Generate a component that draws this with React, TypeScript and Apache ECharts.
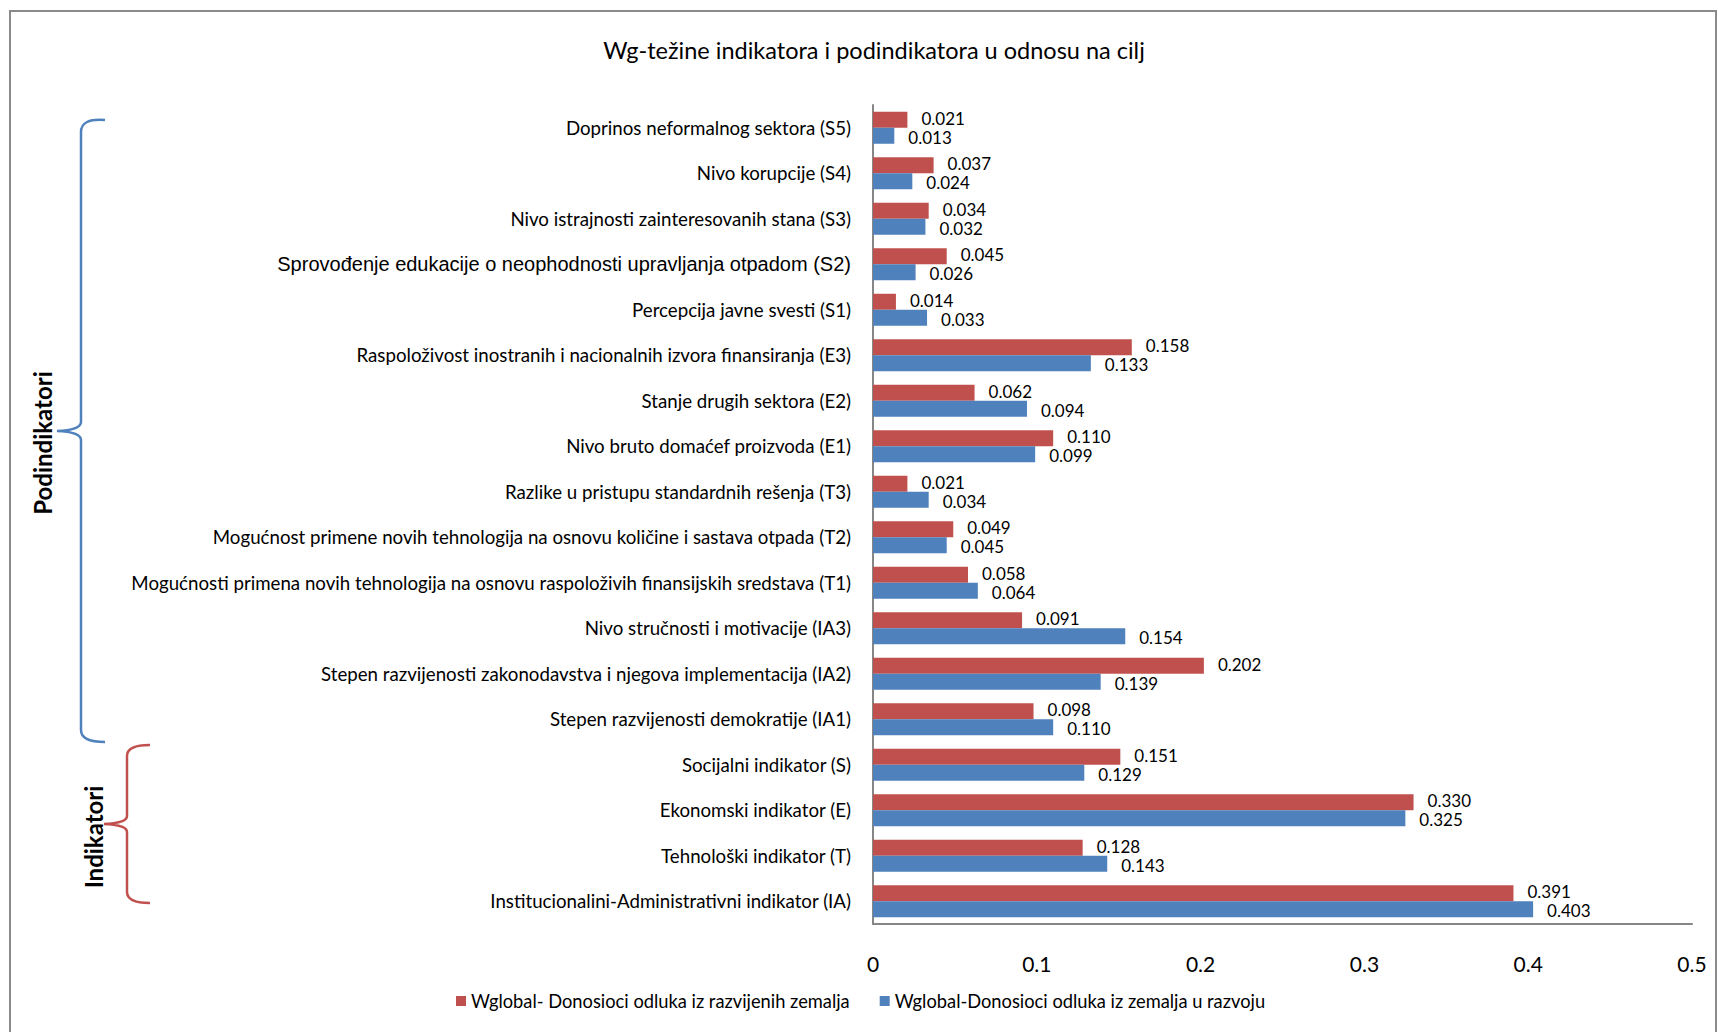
import React, { useEffect, useRef } from "react";
import * as echarts from "echarts";

const categories = [
  "Institucionalini-Administrativni indikator (IA)",
  "Tehnološki indikator (T)",
  "Ekonomski indikator (E)",
  "Socijalni indikator (S)",
  "Stepen razvijenosti demokratije (IA1)",
  "Stepen razvijenosti zakonodavstva i njegova implementacija (IA2)",
  "Nivo stručnosti i motivacije (IA3)",
  "Mogućnosti primena novih tehnologija na osnovu raspoloživih finansijskih sredstava (T1)",
  "Mogućnost primene novih tehnologija na osnovu količine i sastava otpada (T2)",
  "Razlike u pristupu standardnih rešenja (T3)",
  "Nivo bruto domaćef proizvoda (E1)",
  "Stanje drugih sektora (E2)",
  "Raspoloživost inostranih i nacionalnih izvora finansiranja (E3)",
  "Percepcija javne svesti (S1)",
  "Sprovođenje edukacije o neophodnosti upravljanja otpadom (S2)",
  "Nivo istrajnosti zainteresovanih stana (S3)",
  "Nivo korupcije (S4)",
  "Doprinos neformalnog sektora (S5)",
];

const developed = [
  0.391, 0.128, 0.33, 0.151, 0.098, 0.202, 0.091, 0.058, 0.049, 0.021, 0.11,
  0.062, 0.158, 0.014, 0.045, 0.034, 0.037, 0.021,
];

const developing = [
  0.403, 0.143, 0.325, 0.129, 0.11, 0.139, 0.154, 0.064, 0.045, 0.034, 0.099,
  0.094, 0.133, 0.033, 0.026, 0.032, 0.024, 0.013,
];

const seriesNames = [
  "Wglobal- Donosioci odluka iz razvijenih zemalja",
  "Wglobal-Donosioci odluka iz zemalja u razvoju",
];

const titleText = "Wg-težine indikatora i podindikatora u odnosu na cilj";
const groupLabels = ["Podindikatori", "Indikatori"];
const specialLabel = "Sprovođenje edukacije o neophodnosti upravljanja otpadom (S2)";

const RED = "#C0504D";
const BLUE = "#4F81BD";
const FONT = "Lato, 'Open Sans', sans-serif";

let registered = false;
function registerBraces() {
  if (registered) return;
  registered = true;
  echarts.graphic.registerShape(
    "braceBlue",
    echarts.graphic.extendPath(
      "M 105 120 Q 81 118 81 132 L 81 422 Q 81 430 57 431 Q 81 432 81 440 L 81 730 Q 81 742 105 742",
      {}
    )
  );
  echarts.graphic.registerShape(
    "braceRed",
    echarts.graphic.extendPath(
      "M 150 745 Q 127 745 127 756 L 127 816 Q 127 823 104 824 Q 127 825 127 832 L 127 892 Q 127 903 150 903",
      {}
    )
  );
}

export default function App() {
  const ref = useRef<HTMLDivElement>(null);
  useEffect(() => {
    document.body.style.margin = "0";
    registerBraces();
    const chart = echarts.init(ref.current!, null, { renderer: "svg" });
    const labelCommon = {
      show: true,
      position: "right" as const,
      distance: 14,
      color: "#000",
      fontFamily: FONT,
      fontSize: 17,
      lineHeight: 15,
      formatter: (p: any) => Number(p.value).toFixed(3),
    };
    chart.setOption({
      animation: false,
      backgroundColor: "#fff",
      title: {
        text: titleText,
        left: 869,
        top: 33,
        textAlign: "center",
        textStyle: {
          fontFamily: FONT,
          fontSize: 23.5,
          fontWeight: "normal",
          color: "#000",
        },
      },
      legend: {
        left: 451,
        top: 987,
        itemWidth: 10,
        itemHeight: 10,
        itemGap: 30,
        icon: "rect",
        textStyle: { fontFamily: FONT, fontSize: 18.3, color: "#000" },
        data: seriesNames,
      },
      grid: { left: 873, right: 26, top: 105, bottom: 108, containLabel: false },
      xAxis: {
        type: "value",
        min: 0,
        max: 0.5,
        interval: 0.1,
        axisLine: { show: true, lineStyle: { color: "#868686", width: 2 } },
        axisTick: { show: false },
        splitLine: { show: false },
        axisLabel: {
          margin: 29,
          fontFamily: FONT,
          fontSize: 21,
          color: "#000",
        },
      },
      yAxis: {
        type: "category",
        data: categories,
        axisLine: { show: true, lineStyle: { color: "#868686", width: 2 } },
        axisTick: { show: false },
        axisLabel: {
          margin: 22,
          fontFamily: FONT,
          fontSize: 18.7,
          color: "#000",
          formatter: (v: string) => (v === specialLabel ? "{a|" + v + "}" : v),
          rich: {
            a: {
              fontFamily: "'Liberation Sans', Arial, sans-serif",
              fontSize: 20,
              color: "#000",
            },
          },
        },
      },
      series: [
        {
          name: seriesNames[0],
          type: "bar",
          data: developed,
          barWidth: 16,
          barGap: "0%",
          itemStyle: { color: RED },
          label: { ...labelCommon, offset: [0, -1.5] },
        },
        {
          name: seriesNames[1],
          type: "bar",
          data: developing,
          barWidth: 16,
          barGap: "0%",
          itemStyle: { color: BLUE },
          label: { ...labelCommon, offset: [0, 1.5] },
        },
      ],
      graphic: [
        {
          type: "rect",
          shape: { x: 10, y: 11, width: 1706, height: 1040 },
          style: { fill: "none", stroke: "#8A8A8A", lineWidth: 2 },
          silent: true,
        },
        {
          type: "braceBlue",
          x: 0,
          y: 0,
          style: { fill: "none", stroke: BLUE, lineWidth: 2.5 },
        },
        {
          type: "braceRed",
          x: 0,
          y: 0,
          style: { fill: "none", stroke: RED, lineWidth: 2.5 },
        },
        {
          type: "text",
          x: 42,
          y: 443,
          rotation: Math.PI / 2,
          style: {
            text: groupLabels[0],
            fontFamily: FONT,
            fontSize: 24,
            fontWeight: "bold",
            fill: "#000",
            align: "center",
            verticalAlign: "middle",
          },
        },
        {
          type: "text",
          x: 93,
          y: 837,
          rotation: Math.PI / 2,
          style: {
            text: groupLabels[1],
            fontFamily: FONT,
            fontSize: 24,
            fontWeight: "bold",
            fill: "#000",
            align: "center",
            verticalAlign: "middle",
          },
        },
      ],
    });
    return () => chart.dispose();
  }, []);
  return <div ref={ref} style={{ width: 1718, height: 1032 }} />;
}
